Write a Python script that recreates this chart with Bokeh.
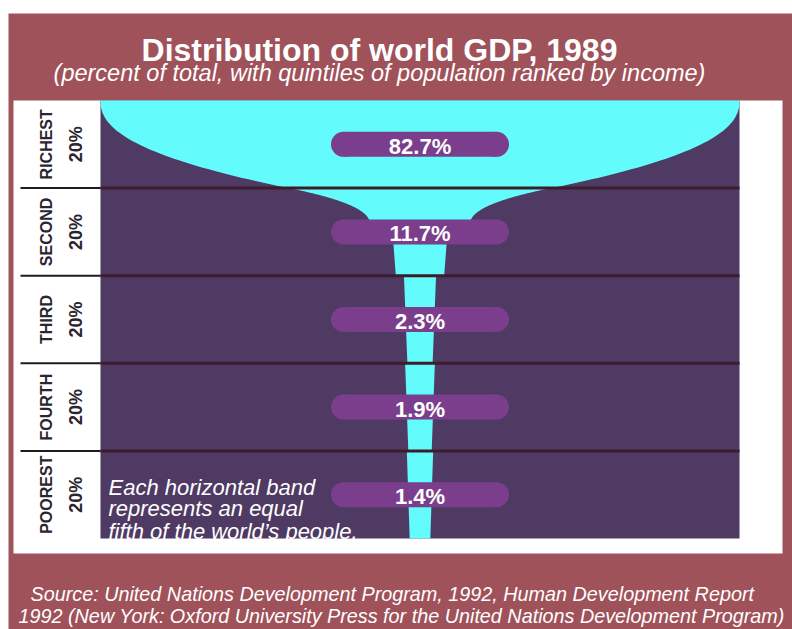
import math
from bokeh.plotting import figure
from bokeh.models import Range1d
from bokeh.core.properties import value
from bokeh.embed import file_html
from bokeh.resources import INLINE

# ---------------- data ----------------
quintiles = ["RICHEST", "SECOND", "THIRD", "FOURTH", "POOREST"]
quintile_pop = ["20%", "20%", "20%", "20%", "20%"]
gdp_share = [82.7, 11.7, 2.3, 1.9, 1.4]

title_text = "Distribution of world GDP, 1989"
subtitle_text = "(percent of total, with quintiles of population ranked by income)"
note_lines = ["Each horizontal band", "represents an equal", "fifth of the world\u2019s people."]
source_lines = [
    "Source: United Nations Development Program, 1992, Human Development Report",
    "1992 (New York: Oxford University Press for the United Nations Development Program)",
]

# ---------------- style / layout (px on the page) ----------------
W, H = 792, 629
BG_L, BG_T = 8, 13
PLOT_L, PLOT_R, PLOT_T, PLOT_B = 100, 739, 100, 538
PANEL_L, PANEL_R, PANEL_B = 13, 782, 553
LABEL_LINE_L = 20
NAME_X, POP_X = 46, 75
PILL_W, PILL_H = 178, 25

MAROON = "#9f525a"
PURPLE = "#4f3a64"
CYAN = "#63fbfb"
PILL = "#7a3e8c"
BAND_LINE = "#3b1d2c"
LABEL_INK = "#2a2530"
FONT = value("Liberation Sans")

FLARE = 2.9        # bowl bottom width relative to second share
BOWL_EXP = 2.3
NECK_T, NECK_H = 0.40, 6.5
STEM_A, STEM_P, TAPER = 1.33, 0.4, 0.12

n = len(quintiles)
kx = (PLOT_R - PLOT_L) / gdp_share[0]   # px per GDP percent point
ky = (PLOT_B - PLOT_T) / n              # px per population quintile
cx = (PLOT_L + PLOT_R) / 2


def X(px):
    return (px - cx) / kx


def Y(py):
    return (PLOT_B - py) / ky


p = figure(width=W, height=H, x_range=Range1d(X(0), X(W)), y_range=Range1d(Y(H), Y(0)),
           x_axis_location=None, y_axis_location=None, toolbar_location=None,
           output_backend="svg", min_border=0, border_fill_color="white",
           background_fill_color="white", outline_line_color=None)
p.xgrid.visible = False
p.ygrid.visible = False

# maroon card, white panel and purple field
p.quad(left=X(BG_L), right=X(W), top=Y(BG_T), bottom=Y(H), fill_color=MAROON, line_color=None)
p.quad(left=X(PANEL_L), right=X(PANEL_R), top=n, bottom=Y(PANEL_B),
       fill_color="white", line_color=None)
p.quad(left=-gdp_share[0] / 2, right=gdp_share[0] / 2, top=n, bottom=0,
       fill_color=PURPLE, line_color=None)

# ---------------- funnel (champagne glass) ----------------
stem = [STEM_A * s ** STEM_P for s in gdp_share]
H0 = gdp_share[0] / 2
H1 = FLARE * gdp_share[1] / 2
prof = []
for i in range(61):
    t = i / 60
    prof.append((n - t, H0 - (H0 - H1) * t ** BOWL_EXP))
m0 = -(H0 - H1) * BOWL_EXP * NECK_T
for i in range(1, 41):
    s = i / 40
    h00 = 2 * s**3 - 3 * s**2 + 1
    h10 = s**3 - 2 * s**2 + s
    h01 = -2 * s**3 + 3 * s**2
    prof.append((n - 1 - s * NECK_T, h00 * H1 + h10 * m0 + h01 * NECK_H))
for b in range(1, n):
    t0 = NECK_T + 0.02 if b == 1 else 0.0
    for t in (t0, 1.0):
        prof.append((n - b - t, stem[b] * (1 + TAPER * (1 - 2 * t))))

xs = [h for (_, h) in prof] + [-h for (_, h) in reversed(prof)]
ys = [y for (y, _) in prof] + [y for (y, _) in reversed(prof)]
p.patch(xs, ys, fill_color=CYAN, line_color=None)

# ---------------- band dividers ----------------
bounds = list(range(1, n))
p.segment(x0=[X(LABEL_LINE_L)] * len(bounds), x1=[X(PLOT_L)] * len(bounds),
          y0=bounds, y1=bounds, line_color="#1c1c1c", line_width=2)
p.segment(x0=[X(PLOT_L)] * len(bounds), x1=[X(PLOT_R)] * len(bounds),
          y0=bounds, y1=bounds, line_color=BAND_LINE, line_width=3)

# ---------------- pills with values ----------------
centers = [n - i - 0.5 for i in range(n)]
pw, ph, pr = PILL_W / kx, PILL_H / ky, PILL_H / kx
p.rect(x=[0] * n, y=centers, width=pw - pr, height=ph, fill_color=PILL, line_color=None)
for sgn in (-1, 1):
    p.ellipse(x=[sgn * (pw - pr) / 2] * n, y=centers, width=pr, height=ph,
              fill_color=PILL, line_color=None)
p.text(x=[0] * n, y=centers, text=[f"{v}%" for v in gdp_share], text_color="white",
       text_font=FONT, text_font_style="bold", text_font_size="22px",
       text_align="center", text_baseline="middle", y_offset=2)

# ---------------- quintile labels ----------------
p.text(x=[X(NAME_X)] * n, y=centers, text=quintiles, angle=math.pi / 2,
       text_color=LABEL_INK, text_font=FONT, text_font_style="bold",
       text_font_size="16px", text_align="center", text_baseline="middle")
p.text(x=[X(POP_X)] * n, y=centers, text=quintile_pop, angle=math.pi / 2,
       text_color=LABEL_INK, text_font=FONT, text_font_style="bold",
       text_font_size="18px", text_align="center", text_baseline="middle")

# ---------------- note ----------------
p.text(x=[X(108)] * 3, y=[Y(487), Y(508), Y(531)], text=note_lines,
       text_color="white", text_font=FONT, text_font_style="italic",
       text_font_size="22px", text_align="left", text_baseline="alphabetic")

# ---------------- title / subtitle / source ----------------
p.text(x=[X(379)], y=[Y(49)], text=[title_text], text_color="white", text_font=FONT,
       text_font_style="bold", text_font_size="32px", text_align="center",
       text_baseline="alphabetic")
p.text(x=[X(379)], y=[Y(72)], text=[subtitle_text], text_color="white", text_font=FONT,
       text_font_style="italic", text_font_size="23.5px", text_align="center",
       text_baseline="alphabetic")
p.text(x=[X(30), X(18)], y=[Y(593), Y(615)], text=source_lines, text_color="white",
       text_font=FONT, text_font_style="italic", text_font_size="19.8px",
       text_align="left", text_baseline="alphabetic")

open("out.html", "w").write(file_html(p, INLINE))
